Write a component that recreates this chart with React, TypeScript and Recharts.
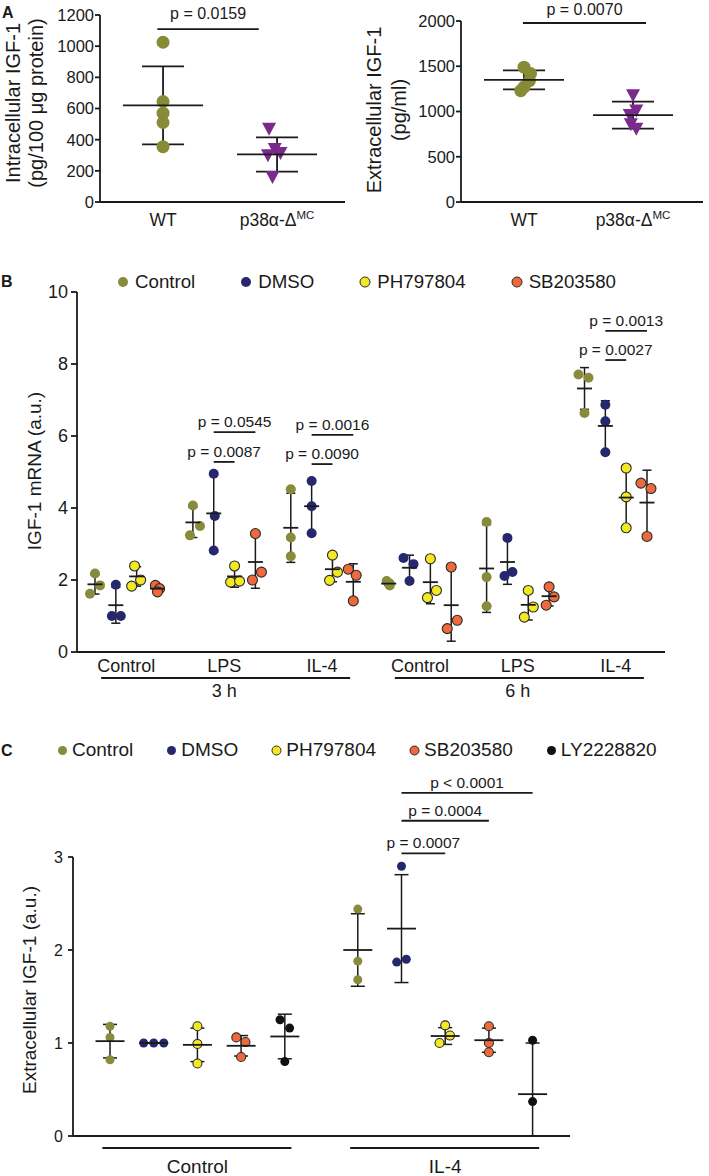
import React from 'react'
import {
  ScatterChart,
  Scatter,
  XAxis,
  YAxis,
  ErrorBar,
  ReferenceLine,
  Legend,
  Label
} from 'recharts'

const FONT = '"Liberation Sans", Arial, Helvetica, sans-serif'
const INK = '#1a1a1a'
const OLIVE = '#878b35'
const PURPLE = '#7a2a8c'

// ---- A: IGF-1 in WT vs p38α-ΔMC ----
const aGroups = ['WT', 'p38α-Δ']
const aGroupSup = ['', 'MC']

const aIntraWT = [1025, 645, 570, 510, 355]
const aIntraKO = [470, 340, 315, 300, 160]
const aIntraKOJitter = [-0.07, -0.02, 0.03, -0.08, -0.04]
const aIntraMean = [620, 305]
const aIntraSd = [250, 110]
const aIntraTicks = [0, 200, 400, 600, 800, 1000, 1200]

const aExtraWT = [1490, 1420, 1340, 1270, 1230]
const aExtraWTJitter = [0, 0.06, 0.05, 0, -0.03]
const aExtraKO = [1180, 1010, 960, 860, 810]
const aExtraKOJitter = [0, 0.03, -0.03, -0.02, 0.03]
const aExtraMean = [1350, 960]
const aExtraSd = [105, 150]
const aExtraTicks = [0, 500, 1000, 1500, 2000]

// ---- B: IGF-1 mRNA, 3 h / 6 h ----
const bCategories = ['Control', 'LPS', 'IL-4', 'Control', 'LPS', 'IL-4']
const bTimes = ['3 h', '6 h']
const bTicks = [0, 2, 4, 6, 8, 10]

const bControl = [[2.18, 1.85, 1.62], [4.07, 3.5, 3.24], [4.52, 3.18, 2.66], [1.97, 1.9, 1.85], [3.61, 2.08, 1.27], [7.71, 7.62, 6.64]]
const bControlJitter = [[0, 0.24, -0.24], [0, 0.34, -0.14], [0, 0, 0], [-0.1, 0.05, 0.05], [0, 0, 0], [-0.29, 0.19, 0]]
const bControlMean = [1.88, 3.6, 3.45, 1.9, 2.32, 7.32]
const bControlSd = [0.27, 0.42, 0.96, 0.05, 1.22, 0.58]

const bDmso = [[1.87, 1.0, 1.0], [4.95, 3.78, 2.82], [4.75, 4.05, 3.3], [2.61, 2.44, 1.97], [3.17, 2.22, 2.11], [6.87, 6.41, 5.55]]
const bDmsoJitter = [[0, -0.19, 0.24], [0, 0.05, 0], [0, 0, 0], [-0.29, 0.19, 0], [0, 0.24, -0.14], [0, 0, 0]]
const bDmsoMean = [1.3, 3.85, 4.05, 2.34, 2.5, 6.28]
const bDmsoSd = [0.5, 1.07, 0.72, 0.35, 0.62, 0.7]

const bPh = [[2.39, 2.0, 1.83], [2.39, 1.94, 1.97], [2.69, 2.22, 1.99], [2.59, 1.71, 1.51], [1.71, 1.25, 0.97], [5.11, 4.31, 3.45]]
const bPhJitter = [[-0.1, 0.19, -0.24], [0, -0.19, 0.24], [0, 0.24, -0.14], [0, 0.29, -0.14], [0, 0.24, -0.19], [0, 0, 0]]
const bPhMean = [2.1, 2.1, 2.3, 1.94, 1.31, 4.29]
const bPhSd = [0.27, 0.3, 0.35, 0.6, 0.42, 0.83]

const bSb = [[1.85, 1.76, 1.67], [3.29, 2.22, 2.0], [2.3, 2.13, 1.42], [2.36, 0.88, 0.65], [1.81, 1.53, 1.3], [4.69, 4.54, 3.21]]
const bSbJitter = [[-0.1, 0.1, 0], [0, 0.29, -0.14], [-0.24, 0.14, 0], [0, 0.29, -0.19], [0, 0.24, -0.14], [-0.29, 0.19, 0]]
const bSbMean = [1.76, 2.5, 1.95, 1.3, 1.55, 4.15]
const bSbSd = [0.09, 0.73, 0.5, 1.0, 0.27, 0.9]

// group, from column, to column, bar level, text
const bSig = [
  { g: 1, from: 1, to: 2, y: 5.28, text: 'p = 0.0087' },
  { g: 1, from: 1, to: 3, y: 6.11, text: 'p = 0.0545' },
  { g: 2, from: 1, to: 2, y: 5.22, text: 'p = 0.0090' },
  { g: 2, from: 1, to: 3, y: 6.03, text: 'p = 0.0016' },
  { g: 5, from: 1, to: 2, y: 8.11, text: 'p = 0.0027' },
  { g: 5, from: 1, to: 3, y: 8.92, text: 'p = 0.0013' }
]

// ---- C: extracellular IGF-1 ----
const cCategories = ['Control', 'IL-4']
const cTicks = [0, 1, 2, 3]

const cControl = [[1.18, 1.06, 0.82], [2.44, 1.88, 1.68]]
const cControlJitter = [[0, 0, 0], [0, 0, 0]]
const cControlMean = [1.02, 2.0]
const cControlSd = [0.18, 0.39]

const cDmso = [[1, 1, 1], [2.9, 1.87, 1.9]]
const cDmsoJitter = [[-0.23, 0, 0.23], [0, -0.11, 0.11]]
const cDmsoMean = [1.0, 2.23]
const cDmsoSd = [0, 0.58]

const cPh = [[1.18, 0.99, 0.78], [1.19, 1.08, 1.0]]
const cPhJitter = [[0, 0, 0], [0, 0.11, -0.13]]
const cPhMean = [0.98, 1.075]
const cPhSd = [0.18, 0.09]

const cSb = [[1.06, 1.01, 0.85], [1.18, 1.0, 0.9]]
const cSbJitter = [[-0.11, 0.1, 0], [0, 0, 0]]
const cSbMean = [0.97, 1.03]
const cSbSd = [0.11, 0.13]

const cLy = [[1.25, 1.16, 0.8], [1.03, 0.37]]
const cLyJitter = [[-0.11, 0.11, 0], [0, 0]]
const cLyMean = [1.07, 0.45]
const cLySd = [0.24, 0.55]

const cSig = [
  { g: 1, from: 1, to: 2, y: 3.04, text: 'p = 0.0007' },
  { g: 1, from: 1, to: 3, y: 3.39, text: 'p = 0.0004' },
  { g: 1, from: 1, to: 4, y: 3.69, text: 'p < 0.0001' }
]

const treatStyle: Record<string, { fill: string; stroke: string }> = {
  Control: { fill: '#898b3c', stroke: 'none' },
  DMSO: { fill: '#27276e', stroke: 'none' },
  PH797804: { fill: '#f3e923', stroke: '#2a2a2a' },
  SB203580: { fill: '#ee6a3c', stroke: '#2a2a2a' },
  LY2228820: { fill: '#111111', stroke: 'none' }
}
const treatOrder = ['Control', 'DMSO', 'PH797804', 'SB203580', 'LY2228820']

const B_STEP = 4.7
const C_STEP = 5.67

const axisStyle = { stroke: INK, strokeWidth: 1.8 }

// helpers
const pointRows = (vals: number[][], jit: number[][], col: number, step: number) =>
  vals.flatMap((grp, g) => grp.map((v, i) => ({ x: g * step + col + (jit[g]?.[i] ?? 0), y: v })))

const summaryRows = (means: number[], sds: number[], col: number, step: number) =>
  means.map((m, g) => ({ x: g * step + col, y: m, err: [Math.min(sds[g], m), sds[g]] }))

const dotShape = (r: number, fill: string, stroke: string) => (p: any) =>
  <circle cx={p.cx} cy={p.cy} r={r} fill={fill} stroke={stroke} strokeWidth={1.1} />

const triShape = (fill: string) => (p: any) =>
  <polygon points={`${p.cx - 7},${p.cy - 6} ${p.cx + 7},${p.cy - 6} ${p.cx},${p.cy + 7}`} fill={fill} />

const meanShape = (hw: number) => (p: any) =>
  <line x1={p.cx - hw} x2={p.cx + hw} y1={p.cy} y2={p.cy} stroke={INK} strokeWidth={1.8} />

function RotTitle({ lines, baselines, cy, fontSize }: { lines: string[]; baselines: number[]; cy: number; fontSize: number }) {
  return (
    <text transform="rotate(-90)" textAnchor="middle" fontSize={fontSize} fill={INK}>
      {lines.map((l, i) => (
        <tspan key={i} x={-cy} y={baselines[i]}>{l}</tspan>
      ))}
    </text>
  )
}

const legendContent = (r: number, dotGap: number, itemGap: number, fontSize: number) => (props: any) => {
  const names = (props.payload || []).map((e: any) => e.value)
  const items = treatOrder.filter((n) => names.includes(n))
  return (
    <div style={{ display: 'flex', alignItems: 'center', columnGap: itemGap, fontSize, color: INK, whiteSpace: 'nowrap', fontFamily: FONT }}>
      {items.map((n) => (
        <span key={n} style={{ display: 'inline-flex', alignItems: 'center' }}>
          <svg width={2 * r + 2} height={2 * r + 2} style={{ marginRight: dotGap }}>
            <circle cx={r + 1} cy={r + 1} r={r} fill={treatStyle[n].fill} stroke={treatStyle[n].stroke} strokeWidth={1} />
          </svg>
          {n}
        </span>
      ))}
    </div>
  )
}

// ---- panel A chart ----
const ATick = (p: any) => (
  <text x={p.x} y={p.y + 24} textAnchor="middle" fontSize={17.5} fill={INK}>
    {aGroups[p.index]}
    {aGroupSup[p.index] && <tspan dy={-7} fontSize={11.5}>{aGroupSup[p.index]}</tspan>}
  </text>
)

function PanelA(props: {
  left: number; width: number; marginTop: number; marginRight: number; yAxisWidth: number
  wt: number[]; wtJit?: number[]; ko: number[]; koJit?: number[]
  mean: number[]; sd: number[]; ticks: number[]; xDomain: [number, number]
  sig: { x1: number; x2: number; y: number; text: string; offset: number }
  title: string[]; titleBase: number[]; titleCy: number
}) {
  const { ticks } = props
  return (
    <div style={{ position: 'absolute', left: props.left, top: 0 }}>
      <ScatterChart width={props.width} height={240} margin={{ top: props.marginTop, right: props.marginRight, bottom: 0, left: 0 }}>
        <XAxis type="number" dataKey="x" domain={props.xDomain} ticks={[0, 1]} interval={0} tick={ATick}
          tickLine={false} tickSize={0} tickMargin={0} height={38} axisLine={axisStyle} />
        <YAxis type="number" dataKey="y" domain={[0, ticks[ticks.length - 1]]} ticks={ticks} interval={0} width={props.yAxisWidth}
          tickSize={5} tickMargin={1} tick={{ fontSize: 16.5, fill: INK }} tickLine={axisStyle} axisLine={axisStyle}
          label={<Label content={() => <RotTitle lines={props.title} baselines={props.titleBase} cy={props.titleCy} fontSize={20} />} />} />
        <Scatter name="WT" data={props.wt.map((v, i) => ({ x: props.wtJit ? props.wtJit[i] : 0, y: v }))}
          shape={dotShape(6.5, OLIVE, 'none')} isAnimationActive={false} />
        <Scatter name="KO" data={props.ko.map((v, i) => ({ x: 1 + (props.koJit ? props.koJit[i] : 0), y: v }))}
          shape={triShape(PURPLE)} isAnimationActive={false} />
        <Scatter legendType="none" data={summaryRows(props.mean, props.sd, 0, 1)} shape={meanShape(40)} isAnimationActive={false}>
          <ErrorBar dataKey="err" direction="y" width={21} stroke={INK} strokeWidth={1.8} />
        </Scatter>
        <ReferenceLine segment={[{ x: props.sig.x1, y: props.sig.y }, { x: props.sig.x2, y: props.sig.y }]}
          stroke={INK} strokeWidth={1.8} ifOverflow="visible"
          label={{ value: props.sig.text, position: 'top', offset: props.sig.offset, fontSize: 16, fill: INK }} />
      </ScatterChart>
    </div>
  )
}

// ---- panel B chart ----
const bCenters = bCategories.map((_, g) => g * B_STEP + 1.5)

const BTick = (p: any) => {
  const { x, y, index } = p
  return (
    <g>
      <text x={x} y={y + 20} textAnchor="middle" fontSize={18} fill={INK}>{bCategories[index]}</text>
      {index % 3 === 1 && (
        <>
          <line x1={x - 123} x2={x + 126} y1={y + 26} y2={y + 26} stroke={INK} strokeWidth={1.8} />
          <text x={x} y={y + 45} textAnchor="middle" fontSize={18} fill={INK}>{bTimes[(index - 1) / 3]}</text>
        </>
      )}
    </g>
  )
}

const bSeries = [
  { name: 'Control', vals: bControl, jit: bControlJitter, mean: bControlMean, sd: bControlSd },
  { name: 'DMSO', vals: bDmso, jit: bDmsoJitter, mean: bDmsoMean, sd: bDmsoSd },
  { name: 'PH797804', vals: bPh, jit: bPhJitter, mean: bPhMean, sd: bPhSd },
  { name: 'SB203580', vals: bSb, jit: bSbJitter, mean: bSbMean, sd: bSbSd }
]

function PanelB() {
  return (
    <div style={{ position: 'absolute', left: 0, top: 255 }}>
      <ScatterChart width={709} height={475} margin={{ top: 37, right: 44, bottom: 0, left: 0 }}>
        <XAxis type="number" dataKey="x" domain={[-0.864, 27.364]} ticks={bCenters} interval={0} tick={BTick}
          tickLine={false} tickSize={0} tickMargin={0} height={78} axisLine={axisStyle} />
        <YAxis type="number" dataKey="y" domain={[0, 10]} ticks={bTicks} interval={0} width={77}
          tickSize={6} tickMargin={3} tick={{ fontSize: 18, fill: INK }} tickLine={axisStyle} axisLine={axisStyle}
          label={<Label content={() => <RotTitle lines={['IGF-1 mRNA (a.u.)']} baselines={[41]} cy={216} fontSize={19} />} />} />
        <Legend layout="horizontal" verticalAlign="middle" align="center" content={legendContent(5, 6, 45, 18.7)}
          wrapperStyle={{ top: 16, left: 117, width: 580 }} />
        {bSeries.map((s, c) => (
          <Scatter key={s.name} name={s.name} fill={treatStyle[s.name].fill} data={pointRows(s.vals, s.jit, c, B_STEP)}
            shape={dotShape(5, treatStyle[s.name].fill, treatStyle[s.name].stroke)} isAnimationActive={false} />
        ))}
        {bSeries.map((s, c) => (
          <Scatter key={s.name + '-sd'} legendType="none" data={summaryRows(s.mean, s.sd, c, B_STEP)}
            shape={meanShape(7.5)} isAnimationActive={false}>
            <ErrorBar dataKey="err" direction="y" width={4.5} stroke={INK} strokeWidth={1.5} />
          </Scatter>
        ))}
        {bSig.map((s) => (
          <ReferenceLine key={s.text}
            segment={[{ x: s.g * B_STEP + s.from, y: s.y }, { x: s.g * B_STEP + s.to, y: s.y }]}
            stroke={INK} strokeWidth={1.8} ifOverflow="visible"
            label={{ value: s.text, position: 'top', offset: 5, fontSize: 15.5, fill: INK }} />
        ))}
      </ScatterChart>
    </div>
  )
}

// ---- panel C chart ----
const cCenters = cCategories.map((_, g) => g * C_STEP + 2)

const CTick = (p: any) => (
  <g>
    <line x1={p.x - 95} x2={p.x + 94} y1={p.y + 12} y2={p.y + 12} stroke={INK} strokeWidth={1.8} />
    <text x={p.x} y={p.y + 37} textAnchor="middle" fontSize={19} fill={INK}>{cCategories[p.index]}</text>
  </g>
)

const cSeries = [
  { name: 'Control', vals: cControl, jit: cControlJitter, mean: cControlMean, sd: cControlSd },
  { name: 'DMSO', vals: cDmso, jit: cDmsoJitter, mean: cDmsoMean, sd: cDmsoSd },
  { name: 'PH797804', vals: cPh, jit: cPhJitter, mean: cPhMean, sd: cPhSd },
  { name: 'SB203580', vals: cSb, jit: cSbJitter, mean: cSbMean, sd: cSbSd },
  { name: 'LY2228820', vals: cLy, jit: cLyJitter, mean: cLyMean, sd: cLySd }
]

function PanelC() {
  return (
    <div style={{ position: 'absolute', left: 0, top: 735 }}>
      <ScatterChart width={709} height={441} margin={{ top: 122, right: 139, bottom: 0, left: 0 }}>
        <XAxis type="number" dataKey="x" domain={[-0.847, 10.526]} ticks={cCenters} interval={0} tick={CTick}
          tickLine={false} tickSize={0} tickMargin={0} height={40} axisLine={axisStyle} />
        <YAxis type="number" dataKey="y" domain={[0, 3]} ticks={cTicks} interval={0} width={73}
          tickSize={5} tickMargin={5} tick={{ fontSize: 16, fill: INK }} tickLine={axisStyle} axisLine={axisStyle}
          label={<Label content={() => <RotTitle lines={['Extracellular IGF-1 (a.u.)']} baselines={[36]} cy={255} fontSize={19} />} />} />
        <Legend layout="horizontal" verticalAlign="middle" align="center" content={legendContent(4.5, 4, 33, 19)}
          wrapperStyle={{ top: 4, left: 57, width: 640 }} />
        {cSeries.map((s, c) => (
          <Scatter key={s.name} name={s.name} fill={treatStyle[s.name].fill} data={pointRows(s.vals, s.jit, c, C_STEP)}
            shape={dotShape(4.5, treatStyle[s.name].fill, treatStyle[s.name].stroke)} isAnimationActive={false} />
        ))}
        {cSeries.map((s, c) => (
          <Scatter key={s.name + '-sd'} legendType="none" data={summaryRows(s.mean, s.sd, c, C_STEP)}
            shape={meanShape(14.5)} isAnimationActive={false}>
            <ErrorBar dataKey="err" direction="y" width={7} stroke={INK} strokeWidth={1.5} />
          </Scatter>
        ))}
        {cSig.map((s) => (
          <ReferenceLine key={s.text}
            segment={[{ x: s.g * C_STEP + s.from, y: s.y }, { x: s.g * C_STEP + s.to, y: s.y }]}
            stroke={INK} strokeWidth={1.8} ifOverflow="visible"
            label={{ value: s.text, position: 'top', offset: 5, fontSize: 15.5, fill: INK }} />
        ))}
      </ScatterChart>
    </div>
  )
}

export default function App() {
  return (
    <div style={{ position: 'absolute', left: 0, top: 0, width: 709, height: 1176, background: '#fff', fontFamily: FONT, color: INK }}>
      <PanelA left={0} width={360} marginTop={15} marginRight={15} yAxisWidth={100}
        wt={aIntraWT} ko={aIntraKO} koJit={aIntraKOJitter} mean={aIntraMean} sd={aIntraSd}
        ticks={aIntraTicks} xDomain={[-0.553, 1.596]}
        sig={{ x1: -0.05, x2: 0.84, y: 1110, text: 'p = 0.0159', offset: 10 }}
        title={['Intracellular IGF-1', '(pg/100 μg protein)']} titleBase={[20, 43]} titleCy={103} />
      <PanelA left={360} width={349} marginTop={21} marginRight={6} yAxisWidth={101}
        wt={aExtraWT} wtJit={aExtraWTJitter} ko={aExtraKO} koJit={aExtraKOJitter} mean={aExtraMean} sd={aExtraSd}
        ticks={aExtraTicks} xDomain={[-0.578, 1.642]}
        sig={{ x1: -0.01, x2: 1.12, y: 1978, text: 'p = 0.0070', offset: 8 }}
        title={['Extracellular IGF-1', '(pg/ml)']} titleBase={[21, 46]} titleCy={110} />
      <PanelB />
      <PanelC />
      <svg width={709} height={1176} style={{ position: 'absolute', left: 0, top: 0, pointerEvents: 'none' }}>
        <text x={2} y={18} fontSize={16} fontWeight="bold" fill={INK}>A</text>
        <text x={1} y={287} fontSize={16} fontWeight="bold" fill={INK}>B</text>
        <text x={1} y={756} fontSize={16} fontWeight="bold" fill={INK}>C</text>
      </svg>
    </div>
  )
}
